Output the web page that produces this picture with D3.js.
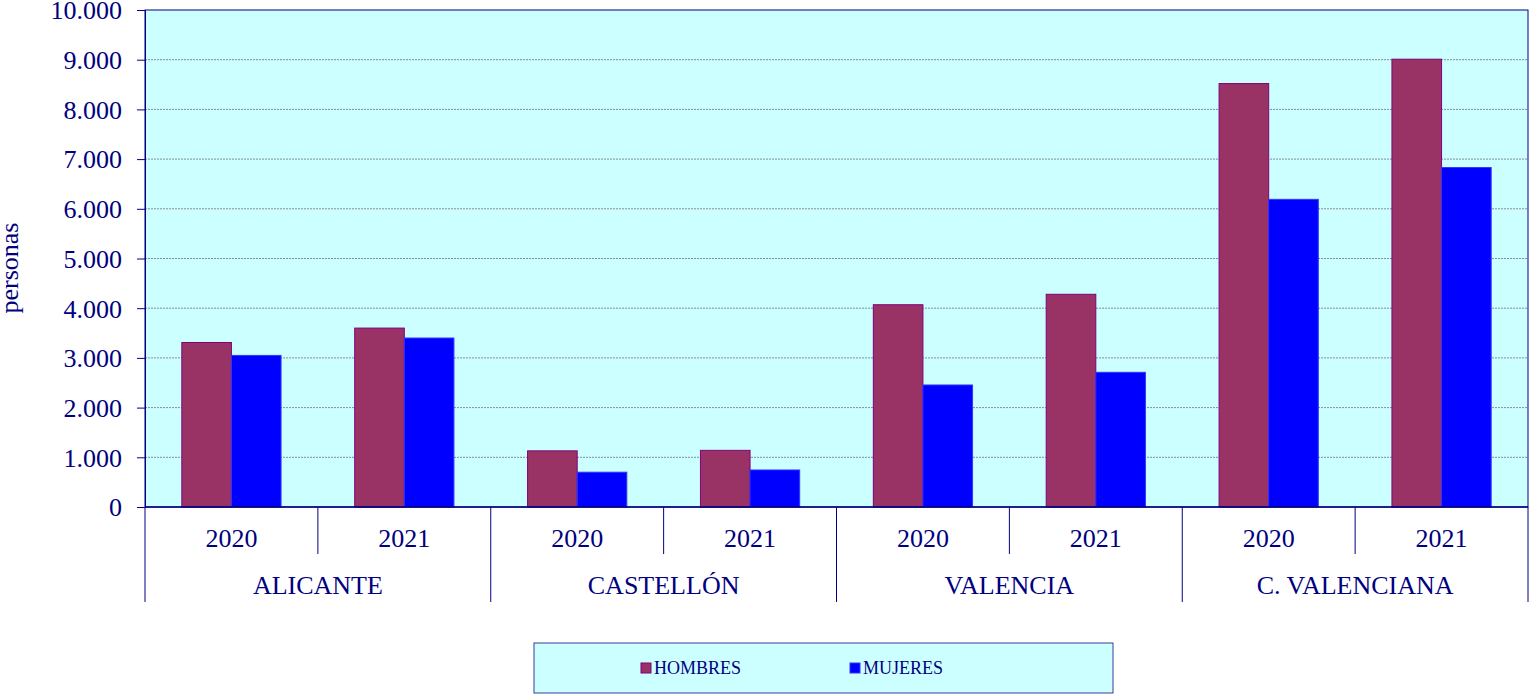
<!DOCTYPE html>
<html>
<head>
<meta charset="utf-8">
<script src="https://cdn.jsdelivr.net/npm/d3@7"></script>
<style>
  body { margin: 0; background: #fff; }
  svg { display: block; }
  svg text { font-family: "Liberation Serif", "Times New Roman", serif; }
</style>
</head>
<body>
<div id="chart"></div>
<script>
// data
const regions = ['ALICANTE', 'CASTELLÓN', 'VALENCIA', 'C. VALENCIANA'];
const years = ['2020', '2021'];
const series = ['HOMBRES', 'MUJERES'];
const hombres = [3310, 3600, 1130, 1140, 4070, 4280, 8520, 9010];
const mujeres = [3050, 3400, 700, 745, 2455, 2710, 6190, 6830];
const yTicks = [0, 1000, 2000, 3000, 4000, 5000, 6000, 7000, 8000, 9000, 10000];

const colors = { HOMBRES: '#993366', MUJERES: '#0000FF' };
const navy = '#000080';
const serif = '"Liberation Serif", "Times New Roman", serif';

const width = 1531, height = 695;
const margin = { top: 10, right: 3, bottom: 188, left: 145 };
const plotW = width - margin.left - margin.right;
const plotH = height - margin.top - margin.bottom;

// one row per region/year slot
const rows = [];
regions.forEach((r, i) => {
    years.forEach((y, j) => {
        const k = i * years.length + j;
        rows.push({ key: r + '|' + y, region: r, year: y, HOMBRES: hombres[k], MUJERES: mujeres[k] });
    });
});

const svg = d3.select('#chart').append('svg')
    .attr('width', width)
    .attr('height', height);

const g = svg.append('g')
    .attr('transform', 'translate(' + margin.left + ',' + margin.top + ')');

const x0 = d3.scaleBand().domain(rows.map(d => d.key)).range([0, plotW]).paddingInner(0).paddingOuter(0);
const x1 = d3.scaleBand().domain(series).range([x0.bandwidth() * 0.213, x0.bandwidth() * 0.787]);
const y = d3.scaleLinear().domain([0, 10000]).range([plotH, 0]);

// plot background
g.append('rect')
    .attr('width', plotW)
    .attr('height', plotH)
    .attr('fill', '#CCFFFF');

// gridlines
g.selectAll('.grid')
    .data(yTicks.filter(t => t > 0 && t < 10000))
    .enter().append('line')
    .attr('x1', 0).attr('x2', plotW)
    .attr('y1', d => y(d)).attr('y2', d => y(d))
    .attr('stroke', '#8c8c8c')
    .attr('stroke-width', 1)
    .attr('stroke-dasharray', '2,1');

// bars
const grp = g.selectAll('.slot')
    .data(rows)
    .enter().append('g')
    .attr('transform', d => 'translate(' + x0(d.key) + ',0)');

grp.selectAll('rect')
    .data(d => series.map(s => ({ s: s, v: d[s] })))
    .enter().append('rect')
    .attr('x', d => x1(d.s))
    .attr('y', d => y(d.v))
    .attr('width', x1.bandwidth())
    .attr('height', d => plotH - y(d.v))
    .attr('fill', d => colors[d.s])
    .attr('stroke', d => d.s === 'HOMBRES' ? '#800080' : '#3333ff')
    .attr('stroke-width', 1);

// plot frame
g.append('rect')
    .attr('width', plotW)
    .attr('height', plotH)
    .attr('fill', 'none')
    .attr('stroke', navy)
    .attr('stroke-width', 1);

// y axis
const yAxis = g.append('g')
    .call(d3.axisLeft(y).tickValues(yTicks).tickSize(8).tickPadding(15)
        .tickFormat(d => d3.format(',')(d).replace(/,/g, '.')));
yAxis.attr('font-family', serif).attr('font-size', 26);
yAxis.select('.domain').attr('stroke', navy);
yAxis.selectAll('.tick line').attr('stroke', navy);
yAxis.selectAll('.tick text')
    .attr('fill', navy)
    .attr('dy', '0.34em');

// axis title
svg.append('text')
    .attr('transform', 'translate(18,' + (margin.top + 258) + ') rotate(-90)')
    .attr('text-anchor', 'middle')
    .attr('fill', navy)
    .style('font-size', '26px')
    .text('personas');

// x axis: years and region separators
const xa = g.append('g').attr('transform', 'translate(0,' + plotH + ')');
xa.append('line')
    .attr('x1', 0).attr('x2', plotW)
    .attr('stroke', navy).attr('stroke-width', 1.5);

xa.selectAll('.yr')
    .data(rows)
    .enter().append('text')
    .attr('x', d => x0(d.key) + x0.bandwidth() / 2)
    .attr('y', 40)
    .attr('text-anchor', 'middle')
    .attr('fill', navy)
    .style('font-size', '26px')
    .text(d => d.year);

// short separators between years
xa.selectAll('.ysep')
    .data(rows.filter(d => d.year !== years[0]))
    .enter().append('line')
    .attr('x1', d => x0(d.key)).attr('x2', d => x0(d.key))
    .attr('y1', 0).attr('y2', 47)
    .attr('stroke', navy);

// long separators between regions
const regionEdges = d3.range(regions.length + 1).map(i => i * years.length * x0.step());
xa.selectAll('.rsep')
    .data(regionEdges)
    .enter().append('line')
    .attr('x1', d => d).attr('x2', d => d)
    .attr('y1', 0).attr('y2', 95)
    .attr('stroke', navy);

xa.selectAll('.rg')
    .data(regions)
    .enter().append('text')
    .attr('x', (d, i) => (regionEdges[i] + regionEdges[i + 1]) / 2)
    .attr('y', 87)
    .attr('text-anchor', 'middle')
    .attr('fill', navy)
    .style('font-size', '26px')
    .text(d => d);

// legend
const lg = svg.append('g').attr('transform', 'translate(534,643)');
lg.append('rect')
    .attr('width', 579)
    .attr('height', 50)
    .attr('fill', '#CCFFFF')
    .attr('stroke', '#3a3aa0')
    .attr('stroke-width', 1);

const items = lg.selectAll('.item')
    .data(series)
    .enter().append('g')
    .attr('transform', (d, i) => 'translate(' + (107 + i * 209) + ',20)');
items.append('rect')
    .attr('width', 10).attr('height', 10)
    .attr('fill', d => colors[d])
    .attr('stroke', d => d === 'HOMBRES' ? '#800080' : '#3333ff');
items.append('text')
    .attr('x', 13)
    .attr('y', 11)
    .attr('fill', navy)
    .style('font-size', '18px')
    .text(d => d);
</script>
</body>
</html>
